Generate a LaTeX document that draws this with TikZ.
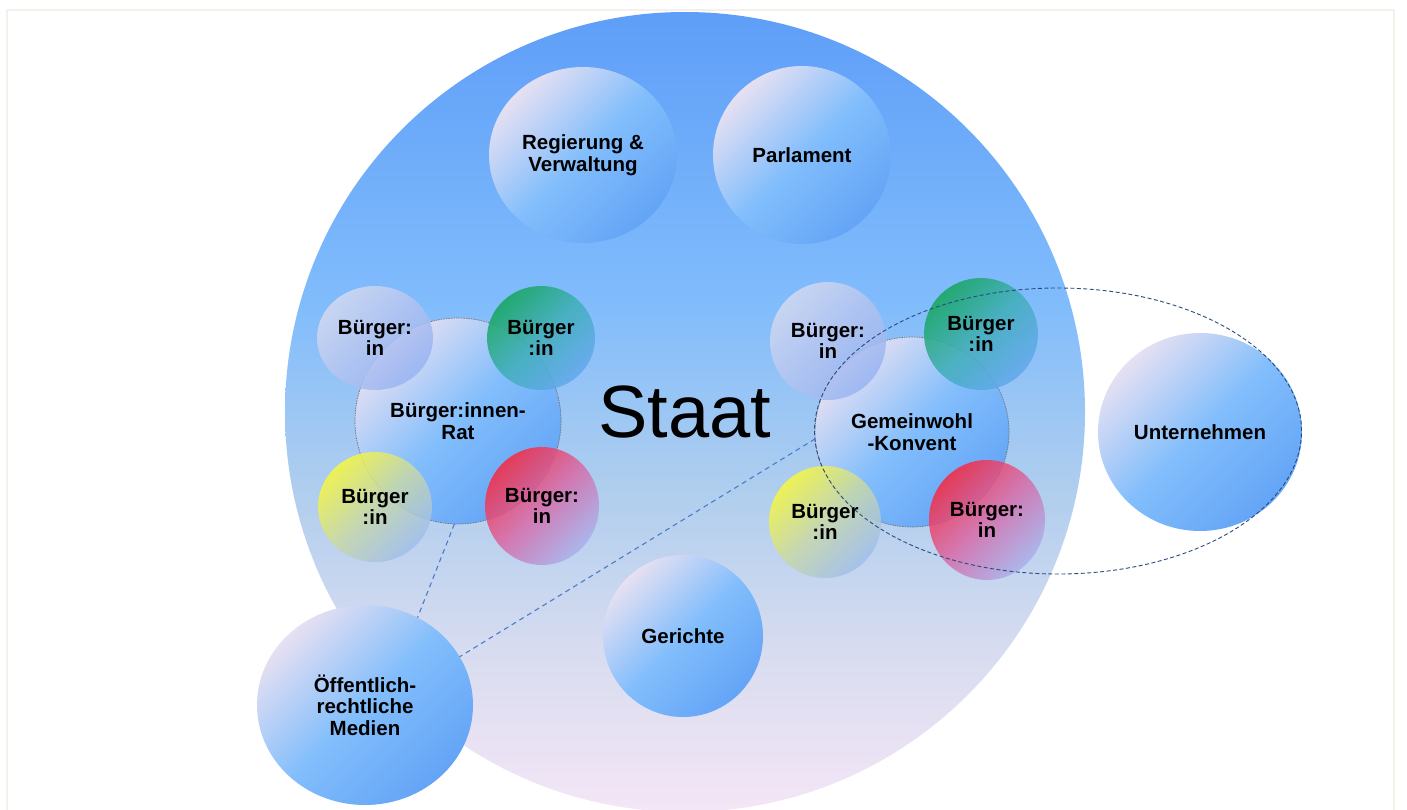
\documentclass[tikz,border=0pt]{standalone}
\usepackage{fontspec}
\setmainfont{Liberation Sans}
\usetikzlibrary{shapes,calc,backgrounds}
\definecolor{lav}{HTML}{E6E0F2}
\definecolor{midblue}{HTML}{82BEFC}
\definecolor{deepblue}{HTML}{64A4F6}
\definecolor{framecol}{HTML}{F2F2EA}
\definecolor{linkcol}{HTML}{4A7CCA}
\definecolor{ringcol}{HTML}{2B4A7E}
\definecolor{staattop}{HTML}{5E9EF8}
\definecolor{staatmid}{HTML}{80BCFC}
\definecolor{staatlow}{HTML}{B0CEEE}
\definecolor{staatpale}{HTML}{D8DCF0}
\definecolor{staatbot}{HTML}{F4E6F6}
% citizen colours: top-left, middle, bottom-right
\definecolor{hellA}{HTML}{D4DAF0}
\definecolor{hellB}{HTML}{B4C4F0}
\definecolor{hellC}{HTML}{98B4F2}
\definecolor{gruenA}{HTML}{14A65A}
\definecolor{gruenB}{HTML}{40AEB8}
\definecolor{gruenC}{HTML}{62A8EE}
\definecolor{gelbA}{HTML}{F8F83C}
\definecolor{gelbB}{HTML}{C8D8A8}
\definecolor{gelbC}{HTML}{A0BEEC}
\definecolor{rotA}{HTML}{F8283E}
\definecolor{rotB}{HTML}{D86AA8}
\definecolor{rotC}{HTML}{A8B2EC}
\pgfdeclareverticalshading{staatshade}{100bp}{
  color(0bp)=(staatbot); color(25bp)=(staatbot); color(35bp)=(staatpale);
  color(45bp)=(staatlow); color(57bp)=(staatmid); color(75bp)=(staattop);
  color(100bp)=(staattop)}
\tikzset{
  blob/.style n args={2}{
    ellipse,
    inner sep=0pt,
    outer sep=0pt,
    minimum width=#1,
    minimum height=#2,
    top color=lav, bottom color=deepblue, middle color=midblue,
    shading angle=45,
    align=center,
    font=\bfseries\fontsize{20.5}{21.5}\selectfont,
  }
}
\tikzset{
  council/.style n args={2}{
    blob={#1}{#2},
    draw=black!55, line width=0.7pt,
    dash pattern=on 1.5pt off 1pt,
  },
  buerger/.style n args={3}{
    blob={#1}{#2},
    top color=#3A, bottom color=#3C, middle color=#3B,
    shading angle=45,
    fill opacity=0.85, text opacity=1,
  },
  hell/.style n args={2}{buerger={#1}{#2}{hell}},
  gruen/.style n args={2}{buerger={#1}{#2}{gruen}},
  gelb/.style n args={2}{buerger={#1}{#2}{gelb}},
  rot/.style n args={2}{buerger={#1}{#2}{rot}},
  link/.style={linkcol, line width=1.1pt, dash pattern=on 5pt off 4pt},
}

\begin{document}
\begin{tikzpicture}[x=1pt, y=-1pt]
    \useasboundingbox (0,0) rectangle (1407,810);
    \draw[framecol, line width=1.5pt] (7,10) rectangle (1394,840);

    %% State
    \node[circle, minimum size=800, inner sep=0pt, shading=staatshade,
      font=\fontsize{74}{74}\selectfont] (staat) at (685,412) {Staat};

    % Organs
    \node[blob={188}{176}] (regierung) at (583,155) {Regierung \&\\Verwaltung};
    \node[blob={178}{178}] (parlament) at (802,155) {Parlament};
    \node[blob={160}{162}] (gerichte) at (683,636) {Gerichte};

    %% Citizens' council
    \node[council={206}{206}] (rat) at (458,421) {B\"urger:innen-\\Rat};
    \node[hell={116}{104}] (b1) at (375,338) {B\"urger:\\in};
    \node[gruen={108}{104}] (b2) at (541,338) {B\"urger\\:in};
    \node[gelb={114}{110}] (b3) at (375,507) {B\"urger\\:in};
    \node[rot={114}{118}] (b4) at (542,506) {B\"urger:\\in};

    %% Common good convention
    \node[council={194}{190}] (konvent) at (912,432) {Gemeinwohl\\-Konvent};
    \node[hell={116}{118}] (k1) at (828,341) {B\"urger:\\in};
    \node[gruen={114}{112}] (k2) at (981,334) {B\"urger\\:in};
    \node[gelb={112}{112}] (k3) at (825,522) {B\"urger\\:in};
    \node[rot={116}{120}] (k4) at (987,520) {B\"urger:\\in};

    % Outside the state
    \node[blob={204}{198}] (unternehmen) at (1200,432) {Unternehmen};
    \node[blob={216}{200}] (medien) at (365,705) {\"Offentlich-\\rechtliche\\Medien};

    % Ring round convention and companies
    \node[ellipse, draw=ringcol, line width=0.9pt, dash pattern=on 4pt off 2.5pt,
      minimum width=487, minimum height=286, inner sep=0pt] (ring) at (1058,431) {};

    %% Links
    \draw[link] (rat.268) -- (medien.59);
    \draw[link] (konvent.184) -- (medien.27);

  \end{tikzpicture}
\end{document}
